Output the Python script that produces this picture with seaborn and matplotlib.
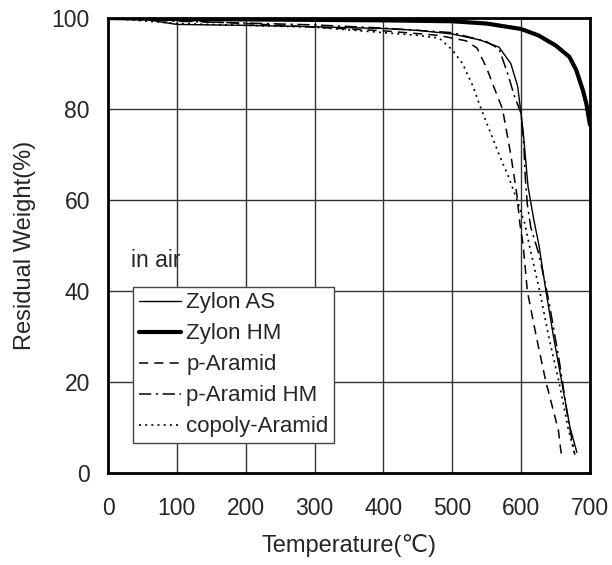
import matplotlib
matplotlib.use("Agg")
import matplotlib.pyplot as plt
import seaborn as sns
import pandas as pd

# (temperature in C, residual weight in %)
zylon_as_t = [0, 50, 100, 200, 300, 400, 450, 500, 540, 568, 585, 595, 603, 610, 618, 626, 636, 647, 659, 671, 681]
zylon_as_w = [100, 99.8, 98.6, 98.4, 98.1, 97.7, 97.3, 96.5, 95.2, 93.6, 90, 85, 75, 63, 56, 50, 40, 30, 20, 10, 4.5]

zylon_hm_t = [0, 100, 200, 300, 400, 500, 550, 600, 625, 650, 670, 680, 690, 695, 700]
zylon_hm_w = [100, 99.8, 99.7, 99.6, 99.5, 99.3, 98.8, 97.6, 96.2, 94, 91.5, 88.6, 84, 81, 76.5]

p_aramid_t = [0, 100, 200, 300, 400, 480, 520, 536, 550, 560, 573, 585, 594, 598, 603, 609, 622, 636, 654, 659]
p_aramid_w = [100, 99.5, 98.8, 98, 97.2, 96.2, 95, 93.4, 89, 85, 80, 70, 61, 55, 50, 40, 30, 20, 9.5, 3.3]

p_aramid_hm_t = [0, 100, 300, 400, 500, 550, 568, 580, 590, 600, 604, 606, 609, 614, 626, 640, 655, 668, 678]
p_aramid_hm_w = [100, 99.3, 98.5, 97.8, 96.8, 94.8, 93.2, 88, 83, 79, 72, 65, 59, 54, 48, 38, 25, 12, 4]

copoly_t = [0, 100, 200, 300, 400, 450, 481, 500, 515, 530, 542, 555, 568, 582, 594, 605, 612, 627, 640, 655, 668, 678]
copoly_w = [100, 98.8, 98.4, 98, 96.8, 96.2, 95.6, 93, 90, 85, 80, 75, 70, 65, 60, 55, 50, 40, 30, 20, 10, 4]

series = {
    "Zylon AS": (zylon_as_t, zylon_as_w, "-", 1.0),
    "Zylon HM": (zylon_hm_t, zylon_hm_w, "-", 3.0),
    "p-Aramid": (p_aramid_t, p_aramid_w, (0, (6, 4)), 1.1),
    "p-Aramid HM": (p_aramid_hm_t, p_aramid_hm_w, (0, (8, 3, 1.5, 3)), 1.1),
    "copoly-Aramid": (copoly_t, copoly_w, (0, (1.2, 2.5)), 1.2),
}

sns.set_style("white")
plt.rcParams["font.family"] = ["Liberation Sans", "DejaVu Sans"]

fig = plt.figure(figsize=(6.12, 5.65), dpi=100)
ax = fig.add_axes([0.1765, 0.163, 0.7875, 0.805])

for name, (t, w, ls, lw) in series.items():
    df = pd.DataFrame({"Temperature": t, "Weight": w})
    sns.lineplot(data=df, x="Temperature", y="Weight", ax=ax, color="black",
                 linestyle=ls, linewidth=lw, label=name, sort=False)

ax.set_xlim(0, 700)
ax.set_ylim(0, 100)
ax.set_xticks(range(0, 701, 100))
ax.set_yticks(range(0, 101, 20))
ax.grid(True, color="#333333", linewidth=1.0)
ax.set_axisbelow(True)
for sp in ax.spines.values():
    sp.set_visible(True)
    sp.set_color("black")
    sp.set_linewidth(2.0)
ax.tick_params(axis="both", length=0, labelsize=16.5)
ax.tick_params(axis="x", pad=17)
ax.tick_params(axis="y", pad=13)
ax.set_xlabel("Temperature(\u2103)", fontsize=17)
ax.set_ylabel("Residual Weight(%)", fontsize=17)
ax.xaxis.set_label_coords(0.5, -0.135)
ax.yaxis.set_label_coords(-0.15, 0.5)

ax.text(33, 46.8, "in air", fontsize=16.5, va="center", ha="left")

leg = ax.legend(loc="lower left", bbox_to_anchor=(0.052, 0.066), fontsize=16,
                frameon=True, fancybox=False, handlelength=1.9, handletextpad=0.25,
                borderpad=0.25, labelspacing=0.45, borderaxespad=0)
leg.get_frame().set_edgecolor("#444444")
leg.get_frame().set_linewidth(1.0)
leg.get_frame().set_alpha(1)

fig.savefig("out.png", dpi=100)
